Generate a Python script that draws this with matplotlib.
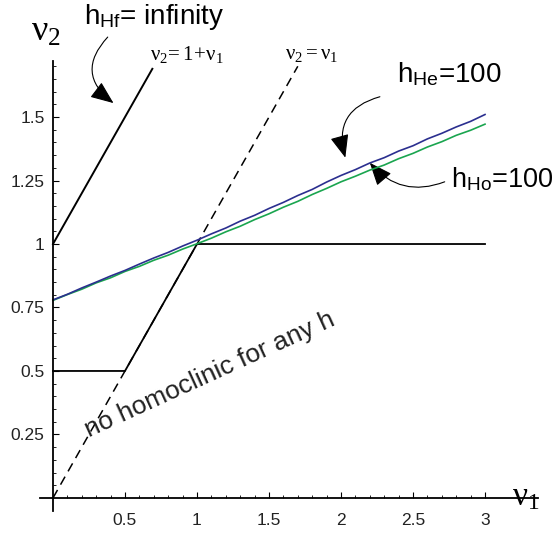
import numpy as np
import matplotlib
matplotlib.use('Agg')
import matplotlib.pyplot as plt
from matplotlib.patches import FancyArrowPatch
from matplotlib.ticker import FixedLocator

plt.rcParams['font.family'] = ['Liberation Sans', 'DejaVu Sans']
plt.rcParams['mathtext.fontset'] = 'custom'
plt.rcParams['mathtext.rm'] = 'Liberation Serif'
plt.rcParams['mathtext.it'] = 'Liberation Serif:italic'
plt.rcParams['mathtext.sf'] = 'Liberation Sans'

# numerically traced h = 100 curves (heteroclinic / homoclinic)
nu1 = [0.0, 0.1, 0.2, 0.3, 0.4, 0.5, 0.6, 0.7, 0.8, 0.9, 1.0,
       1.1, 1.2, 1.3, 1.4, 1.5, 1.6, 1.7, 1.8, 1.9, 2.0,
       2.1, 2.2, 2.3, 2.4, 2.5, 2.6, 2.7, 2.8, 2.9, 3.0]
h_he = [0.780, 0.802, 0.827, 0.850, 0.874, 0.896, 0.921, 0.945, 0.967, 0.992, 1.015,
        1.040, 1.063, 1.090, 1.113, 1.140, 1.164, 1.191, 1.215, 1.244, 1.270,
        1.293, 1.319, 1.340, 1.366, 1.387, 1.414, 1.436, 1.461, 1.483, 1.510]
h_ho = [0.778, 0.801, 0.822, 0.847, 0.867, 0.892, 0.912, 0.936, 0.956, 0.980, 1.001,
        1.023, 1.048, 1.070, 1.096, 1.119, 1.145, 1.168, 1.195, 1.219, 1.245,
        1.267, 1.291, 1.311, 1.336, 1.357, 1.382, 1.403, 1.428, 1.448, 1.472]

# no-homoclinic region boundary
bound_x = [0.0, 0.5, 1.0, 3.0]
bound_y = [0.5, 0.5, 1.0, 1.0]

# h_Hf = infinity : nu2 = 1 + nu1
hf_x = [0.0, 0.69]
hf_y = [1.0, 1.69]

# nu2 = nu1 reference line
diag_x = [0.0, 1.7]
diag_y = [0.0, 1.7]

x_major = [0.5, 1, 1.5, 2, 2.5, 3]
y_major = [0.25, 0.5, 0.75, 1, 1.25, 1.5]
x_labels = ['0.5', '1', '1.5', '2', '2.5', '3']
y_labels = ['0.25', '0.5', '0.75', '1', '1.25', '1.5']

fig = plt.figure(figsize=(5.56, 5.35), dpi=100)
ax = fig.add_axes([0, 0, 1, 1])
ax.set_xlim(-0.368, 3.493)
ax.set_ylim(-0.146, 1.961)

ax.plot(diag_x, diag_y, color='black', lw=1.1, dashes=(6, 4))
ax.plot(hf_x, hf_y, color='black', lw=1.4)
ax.plot(bound_x, bound_y, color='black', lw=1.3)
ax.plot(nu1, h_ho, color='#1aa54f', lw=1.2)
ax.plot(nu1, h_he, color='#2b2f8f', lw=1.2)

# axes through the origin
for side in ['top', 'right']:
    ax.spines[side].set_visible(False)
ax.spines['left'].set_position(('data', 0))
ax.spines['bottom'].set_position(('data', 0))
ax.spines['left'].set_bounds(-0.05, 1.72)
ax.spines['bottom'].set_bounds(-0.09, 3.37)
ax.spines['left'].set_linewidth(1.3)
ax.spines['bottom'].set_linewidth(1.3)

ax.xaxis.set_major_locator(FixedLocator(x_major))
ax.yaxis.set_major_locator(FixedLocator(y_major))
ax.xaxis.set_minor_locator(FixedLocator(np.arange(0.1, 3.05, 0.1)))
ax.yaxis.set_minor_locator(FixedLocator(np.arange(0.05, 1.72, 0.05)))
ax.set_xticklabels(x_labels)
ax.set_yticklabels(y_labels)
ax.tick_params(which='major', direction='in', length=4, width=0.8,
               labelsize=12.5, labelcolor='#222222')
ax.tick_params(which='minor', direction='in', length=2.5, width=0.6)
ax.tick_params(axis='x', which='major', pad=11)
ax.tick_params(axis='y', which='major', pad=6)

# axis names
ax.text(-0.15, 1.80, r'$\mathrm{\nu}_2$', fontsize=26)
ax.text(3.19, -0.03, r'$\mathrm{\nu}_1$', fontsize=24)

# line annotations
ax.text(0.675, 1.724, r'$\mathrm{\nu}_2\!=\mathrm{1\!+\!\nu}_1$', fontsize=15)
ax.text(1.61, 1.728, r'$\mathrm{\nu}_2 = \mathrm{\nu}_1$', fontsize=15)

ax.text(0.215, 1.865, r'h$_{\mathsf{Hf}}$= infinity', fontsize=20)
ax.text(2.39, 1.638, r'h$_{\mathsf{He}}$=100', fontsize=20)
ax.text(2.765, 1.224, r'h$_{\mathsf{Ho}}$=100', fontsize=19.5)

ax.text(1.09, 0.484, 'no homoclinic for any h', fontsize=19,
        rotation=24.5, rotation_mode='anchor', ha='center', va='center',
        color='#222222')

# curved pointers
arrow_kw = dict(arrowstyle='-|>,head_length=1.1,head_width=0.45',
                color='black', lw=0.8, mutation_scale=13,
                shrinkA=0, shrinkB=0)
ax.add_patch(FancyArrowPatch((0.38, 1.815), (0.42, 1.555),
                             connectionstyle='arc3,rad=0.55', **arrow_kw))
ax.add_patch(FancyArrowPatch((2.27, 1.58), (2.03, 1.34),
                             connectionstyle='arc3,rad=0.5', **arrow_kw))
ax.add_patch(FancyArrowPatch((2.72, 1.245), (2.2, 1.32),
                             connectionstyle='arc3,rad=-0.35', **arrow_kw))

fig.savefig('out.png', dpi=100)
